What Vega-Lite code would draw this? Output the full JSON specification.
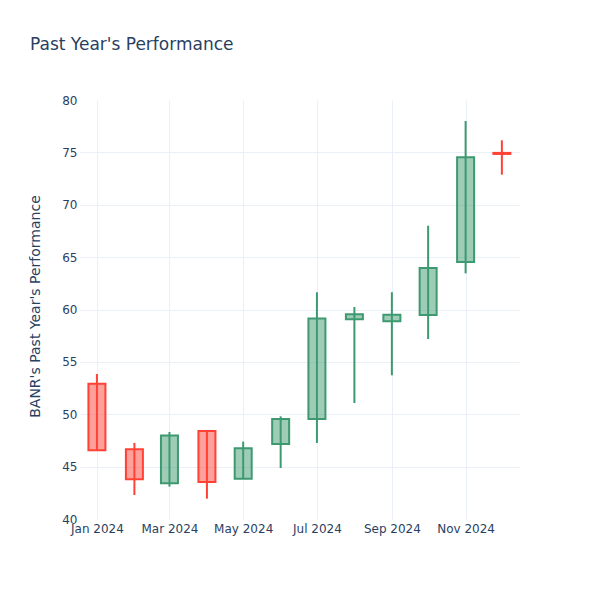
{
  "$schema": "https://vega.github.io/schema/vega-lite/v6.json",
  "width": 440,
  "height": 419,
  "autosize": {"type": "none"},
  "padding": {"left": 80, "top": 100, "right": 80, "bottom": 81},
  "background": "white",
  "config": {
    "font": "DejaVu Sans",
    "view": {"stroke": null},
    "axis": {
      "domain": false,
      "ticks": false,
      "gridColor": "#EBF0F8",
      "gridWidth": 1,
      "labelColor": "#2a3f5f",
      "labelFontSize": 12,
      "titleColor": "#2a3f5f",
      "titleFontWeight": "normal"
    }
  },
  "title": {
    "text": "Past Year's Performance",
    "anchor": "start",
    "frame": "group",
    "fontSize": 17,
    "fontWeight": "normal",
    "color": "#2a3f5f",
    "dx": -50,
    "offset": 40
  },
  "data": {
    "values": [
      {"date": "2024-01-01", "open": 52.92, "high": 53.84, "low": 46.56, "close": 46.56, "direction": "down"},
      {"date": "2024-02-01", "open": 46.65, "high": 47.26, "low": 42.29, "close": 43.8, "direction": "down"},
      {"date": "2024-03-01", "open": 43.41, "high": 48.31, "low": 43.09, "close": 47.96, "direction": "up"},
      {"date": "2024-04-01", "open": 48.4, "high": 48.4, "low": 41.94, "close": 43.53, "direction": "down"},
      {"date": "2024-05-01", "open": 43.85, "high": 47.39, "low": 43.85, "close": 46.75, "direction": "up"},
      {"date": "2024-06-01", "open": 47.16, "high": 49.8, "low": 44.87, "close": 49.55, "direction": "up"},
      {"date": "2024-07-01", "open": 49.55, "high": 61.64, "low": 47.26, "close": 59.13, "direction": "up"},
      {"date": "2024-08-01", "open": 59.06, "high": 60.24, "low": 51.07, "close": 59.54, "direction": "up"},
      {"date": "2024-09-01", "open": 58.88, "high": 61.65, "low": 53.72, "close": 59.51, "direction": "up"},
      {"date": "2024-10-01", "open": 59.47, "high": 68.0, "low": 57.18, "close": 63.96, "direction": "up"},
      {"date": "2024-11-01", "open": 64.53, "high": 78.0, "low": 63.45, "close": 74.53, "direction": "up"},
      {"date": "2024-12-01", "open": 74.95, "high": 76.15, "low": 72.87, "close": 74.85, "direction": "down"}
    ]
  },
  "encoding": {
    "x": {
      "field": "date",
      "type": "temporal",
      "title": null,
      "scale": {
        "type": "utc",
        "nice": false,
        "padding": 0,
        "domain": [
          {"year": 2023, "month": 12, "date": 18, "utc": true},
          {"year": 2024, "month": 12, "date": 16, "utc": true}
        ]
      },
      "axis": {
        "values": [
          {"year": 2024, "month": 1, "date": 1, "utc": true},
          {"year": 2024, "month": 3, "date": 1, "utc": true},
          {"year": 2024, "month": 5, "date": 1, "utc": true},
          {"year": 2024, "month": 7, "date": 1, "utc": true},
          {"year": 2024, "month": 9, "date": 1, "utc": true},
          {"year": 2024, "month": 11, "date": 1, "utc": true}
        ],
        "labelExpr": "utcFormat(datum.value, '%b %Y')",
        "labelPadding": 4,
        "labelFlush": false
      }
    }
  },
  "layer": [
    {
      "mark": {"type": "rule", "strokeWidth": 2},
      "encoding": {
        "y": {
          "field": "low",
          "type": "quantitative",
          "title": "BANR's Past Year's Performance",
          "scale": {"domain": [40, 80], "zero": false, "nice": false, "padding": 0},
          "axis": {
            "values": [40, 45, 50, 55, 60, 65, 70, 75, 80],
            "labelPadding": 3,
            "titleFontSize": 14,
            "titleAngle": -90,
            "titleX": -45,
            "titleY": 206,
            "titleAlign": "center",
            "titleBaseline": "middle",
            "gridOpacity": {"condition": {"test": "datum.value == 40 || datum.value == 80", "value": 0}, "value": 1}
          }
        },
        "y2": {"field": "high"},
        "stroke": {
          "field": "direction",
          "type": "nominal",
          "scale": {"domain": ["up", "down"], "range": ["#3D9970", "#FF4136"]},
          "legend": null
        }
      }
    },
    {
      "mark": {"type": "bar", "width": 17, "fillOpacity": 0.5, "strokeWidth": 2},
      "encoding": {
        "y": {"field": "open", "type": "quantitative"},
        "y2": {"field": "close"},
        "fill": {
          "field": "direction",
          "type": "nominal",
          "scale": {"domain": ["up", "down"], "range": ["#3D9970", "#FF4136"]},
          "legend": null
        },
        "stroke": {
          "field": "direction",
          "type": "nominal",
          "scale": {"domain": ["up", "down"], "range": ["#3D9970", "#FF4136"]},
          "legend": null
        }
      }
    }
  ]
}
